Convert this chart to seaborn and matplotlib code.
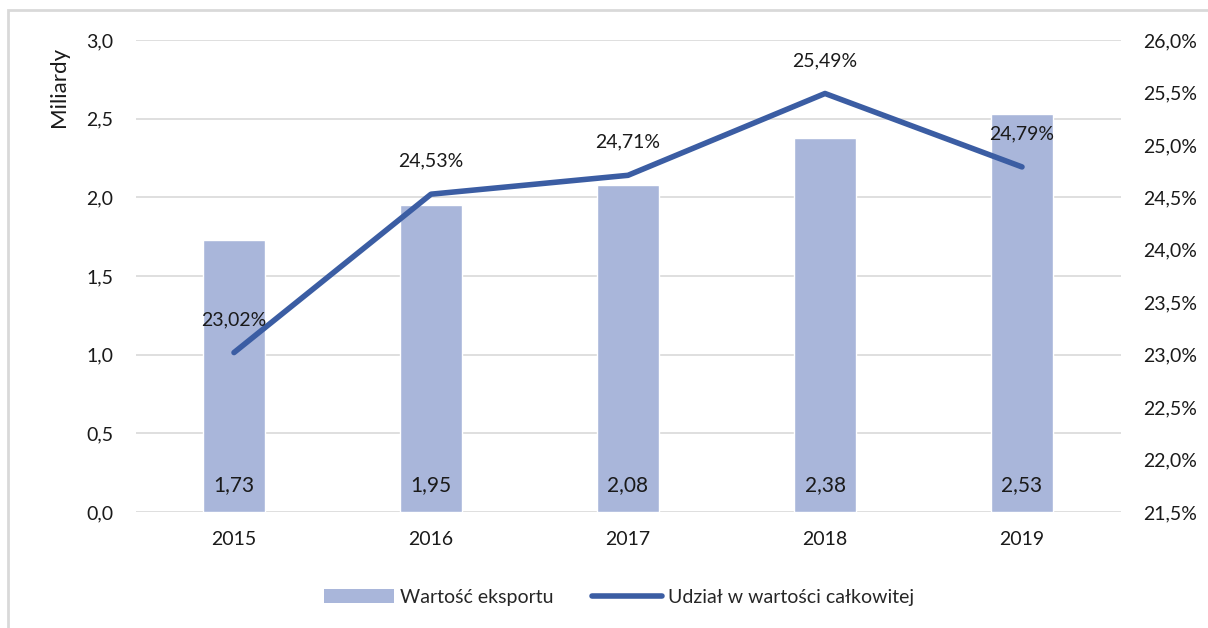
import matplotlib
matplotlib.use("Agg")
import matplotlib.pyplot as plt
import seaborn as sns
import pandas as pd
from matplotlib.patches import Rectangle
from matplotlib.lines import Line2D
from matplotlib.ticker import FixedLocator

years = ["2015", "2016", "2017", "2018", "2019"]
export_value = [1.73, 1.95, 2.08, 2.38, 2.53]
share_pct = [23.02, 24.53, 24.71, 25.49, 24.79]

left_ticks = [0.0, 0.5, 1.0, 1.5, 2.0, 2.5, 3.0]
right_ticks = [21.5, 22.0, 22.5, 23.0, 23.5, 24.0, 24.5, 25.0, 25.5, 26.0]

bar_color = "#A9B6DA"
line_color = "#3B5DA3"
grid_color = "#D9D9D9"
text_color = "#1a1a1a"

sns.set_style("white")
plt.rcParams['font.family'] = ['Lato', 'DejaVu Sans']

df = pd.DataFrame({"year": years, "value": export_value, "share": share_pct})
df["pos"] = range(len(df))

fig = plt.figure(figsize=(12.08, 6.28), dpi=100)
ax = fig.add_axes([135.5 / 1208, 1 - 512 / 628, 985 / 1208, 472 / 628])

# outer frame (only left and top visible in the reference)
fig.add_artist(Rectangle((8 / 1208, -0.1), 1.2, 1.1 - 10 / 628,
                         transform=fig.transFigure, fill=False,
                         edgecolor=grid_color, linewidth=2))

sns.barplot(data=df, x="year", y="value", color=bar_color, width=0.315,
            ax=ax, zorder=2, saturation=1)
ax.set_ylim(0, 3.0)
ax.set_xlim(-0.5, 4.5)
ax.yaxis.set_major_locator(FixedLocator(left_ticks))
ax.set_yticklabels([f"{t:.1f}".replace(".", ",") for t in left_ticks])
ax.grid(axis="y", color=grid_color, linewidth=1.2, zorder=0)
ax.set_axisbelow(True)
for s in ax.spines.values():
    s.set_visible(False)
ax.set_xlabel("")
ax.set_ylabel("Miliardy", fontsize=16, loc="top", color=text_color)
ax.yaxis.set_label_coords(-0.068, 0.985)
ax.tick_params(axis="both", length=0, labelsize=14, colors=text_color)
ax.tick_params(axis="y", pad=16)
ax.tick_params(axis="x", pad=14)

for i, v in enumerate(export_value):
    ax.text(i, 0.17, f"{v:.2f}".replace(".", ","), ha="center", va="center",
            fontsize=15, color=text_color, zorder=5)

ax2 = ax.twinx()
sns.lineplot(data=df, x="pos", y="share", color=line_color, linewidth=4,
             ax=ax2, solid_capstyle="round", zorder=4)
ax2.set_ylim(21.5, 26.0)
ax2.yaxis.set_major_locator(FixedLocator(right_ticks))
ax2.set_yticklabels([f"{t:.1f}%".replace(".", ",") for t in right_ticks])
ax2.tick_params(axis="y", length=0, labelsize=14, colors=text_color, pad=16)
ax2.set_ylabel("")
ax2.set_xlabel("")
for s in ax2.spines.values():
    s.set_visible(False)

for i, v in enumerate(share_pct):
    ax2.text(i, v + 0.315, f"{v:.2f}%".replace(".", ","), ha="center",
             va="center", fontsize=14, color=text_color, zorder=6)

handles = [Rectangle((0, 0), 1, 1, facecolor=bar_color, edgecolor="none"),
           Line2D([0], [0], color=line_color, linewidth=4, solid_capstyle="round")]
labels = ["Wartość eksportu", "Udział w wartości całkowitej"]
fig.legend(handles, labels, loc="center", bbox_to_anchor=(619 / 1208, 1 - 597 / 628),
           ncol=2, frameon=False, fontsize=14, handlelength=3.6,
           handletextpad=0.3, columnspacing=2.0)

fig.savefig("out.png", dpi=100)
